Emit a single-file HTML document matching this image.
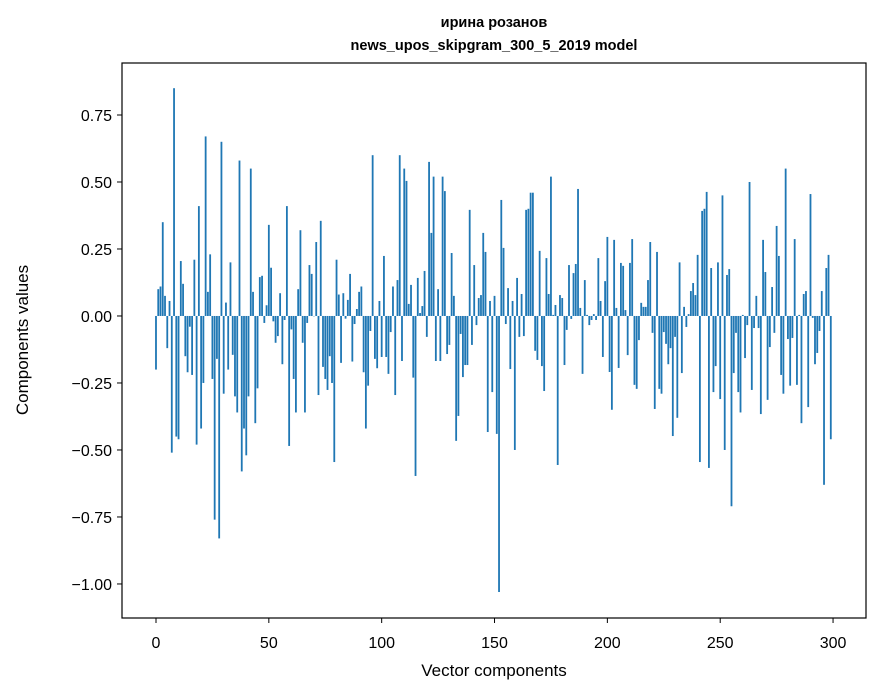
<!DOCTYPE html>
<html><head><meta charset="utf-8">
<style>
html,body{margin:0;padding:0;background:#fff;}
svg{display:block;font-family:"Liberation Sans","DejaVu Sans",sans-serif;}
</style></head>
<body>
<svg id="chart" width="880" height="696" viewBox="0 0 880 696" xmlns="http://www.w3.org/2000/svg">
<text x="494" y="27" text-anchor="middle" font-size="14.5" font-weight="bold">ирина розанов</text>
<text x="494" y="50" text-anchor="middle" font-size="14.5" font-weight="bold">news_upos_skipgram_300_5_2019 model</text>
<g id="bars"></g>
<g id="xticks"></g>
<g id="yticks"></g>
<rect x="122" y="63" width="744" height="555" fill="none" stroke="#000" stroke-width="1.2"/>
<text x="494" y="676" text-anchor="middle" font-size="17">Vector components</text>
<text transform="translate(28,340) rotate(-90)" text-anchor="middle" font-size="17">Components values</text>
</svg>
<script>
const values = [
-0.20,0.10,0.11,0.35,0.075,-0.12,0.056,-0.51,0.85,-0.45,
-0.46,0.205,0.12,-0.15,-0.21,-0.04,-0.22,0.21,-0.48,0.41,
-0.42,-0.25,0.67,0.09,0.23,-0.235,-0.76,-0.16,-0.83,0.65,
-0.29,0.05,-0.20,0.20,-0.145,-0.30,-0.36,0.58,-0.58,-0.42,
-0.52,-0.30,0.55,0.09,-0.40,-0.27,0.145,0.15,-0.026,0.04,
0.34,0.18,-0.02,-0.10,-0.075,0.085,-0.18,-0.015,0.41,-0.485,
-0.05,-0.235,-0.36,0.10,0.32,-0.10,-0.36,-0.026,0.19,0.157,
0.0,0.276,-0.295,0.355,-0.19,-0.235,-0.276,-0.15,-0.25,-0.545,
0.21,0.08,-0.175,0.085,-0.01,0.06,0.157,-0.17,-0.03,0.026,
0.09,0.11,-0.21,-0.42,-0.26,-0.056,0.60,-0.16,-0.195,0.056,
-0.153,0.224,-0.153,-0.216,-0.06,0.11,-0.295,0.134,0.60,-0.168,
0.55,0.504,0.045,0.116,-0.23,-0.597,0.142,0.011,0.037,0.168,
-0.078,0.575,0.31,0.52,-0.168,0.10,-0.168,0.52,0.466,-0.142,
-0.108,0.235,0.075,-0.466,-0.373,-0.067,-0.228,-0.183,-0.183,0.396,
-0.108,0.19,-0.034,0.067,0.078,0.31,0.239,-0.433,0.056,-0.284,
0.075,-0.44,-1.03,0.433,0.254,-0.03,0.104,-0.198,0.056,-0.5,
0.142,-0.078,0.082,-0.075,0.396,0.40,0.46,0.46,-0.13,-0.164,
0.243,-0.187,-0.28,0.216,0.082,0.52,0.004,0.041,-0.556,0.078,
0.067,-0.183,-0.052,0.19,-0.011,0.16,0.194,0.474,0.03,-0.216,
0.134,0.004,-0.034,-0.015,0.007,-0.015,0.216,0.056,-0.153,0.13,
0.295,-0.209,-0.35,0.284,0.03,-0.194,0.198,0.187,0.022,-0.146,
0.198,0.287,-0.257,-0.272,-0.09,0.049,0.034,0.034,0.134,0.276,
-0.063,-0.347,0.239,-0.272,-0.29,-0.06,-0.104,-0.18,-0.12,-0.448,
-0.078,-0.38,0.2,-0.213,0.034,-0.041,0.007,0.093,0.123,0.078,
0.228,-0.545,0.392,0.40,0.463,-0.567,0.179,-0.284,-0.187,0.2,
-0.31,0.45,-0.5,0.153,0.175,-0.71,-0.213,-0.063,-0.284,-0.36,
0.004,-0.157,-0.034,0.50,-0.276,-0.045,0.075,-0.045,-0.366,0.284,
0.164,-0.313,-0.116,0.108,-0.063,0.336,0.224,-0.22,-0.29,0.55,
-0.086,-0.26,-0.082,0.287,-0.257,0.004,-0.4,0.082,0.093,-0.34,
0.455,-0.007,-0.18,-0.138,-0.056,0.093,-0.63,0.179,0.228,-0.46
];
const xTickValues = [0,50,100,150,200,250,300];
const yTickValues = [-1.00,-0.75,-0.50,-0.25,0.00,0.25,0.50,0.75];

const NS = "http://www.w3.org/2000/svg";
const X0 = 122, X1 = 866, Y0 = 63, Y1 = 618;
const xMin = -15.06, xMax = 314.6, yMin = -1.127, yMax = 0.944;
function xScale(v){ return X0 + (v - xMin) / (xMax - xMin) * (X1 - X0); }
function yScale(v){ return Y1 - (v - yMin) / (yMax - yMin) * (Y1 - Y0); }
const bw = (xScale(1) - xScale(0)) * 0.8;

const barsG = document.getElementById('bars');
values.forEach((v, i) => {
  const r = document.createElementNS(NS, 'rect');
  const y = yScale(Math.max(v, 0)), h = Math.abs(yScale(v) - yScale(0));
  r.setAttribute('x', xScale(i) - bw / 2);
  r.setAttribute('y', y);
  r.setAttribute('width', bw);
  r.setAttribute('height', Math.max(h, 0.3));
  r.setAttribute('fill', '#1f77b4');
  
  
  barsG.appendChild(r);
});

const xg = document.getElementById('xticks');
xTickValues.forEach(t => {
  const x = xScale(t);
  const l = document.createElementNS(NS, 'line');
  l.setAttribute('x1', x); l.setAttribute('x2', x);
  l.setAttribute('y1', Y1); l.setAttribute('y2', Y1 + 5);
  l.setAttribute('stroke', '#000');
  
  
  xg.appendChild(l);
  const tx = document.createElementNS(NS, 'text');
  tx.setAttribute('x', x); tx.setAttribute('y', Y1 + 30);
  tx.setAttribute('text-anchor', 'middle');
  tx.setAttribute('font-size', '16');
  tx.textContent = String(t);
  
  
  xg.appendChild(tx);
});

const yg = document.getElementById('yticks');
yTickValues.forEach(t => {
  const y = yScale(t);
  const l = document.createElementNS(NS, 'line');
  l.setAttribute('x1', X0 - 5); l.setAttribute('x2', X0);
  l.setAttribute('y1', y); l.setAttribute('y2', y);
  l.setAttribute('stroke', '#000');
  
  
  yg.appendChild(l);
  const tx = document.createElementNS(NS, 'text');
  tx.setAttribute('x', X0 - 10); tx.setAttribute('y', y + 6);
  tx.setAttribute('text-anchor', 'end');
  tx.setAttribute('font-size', '16');
  tx.textContent = (t < 0 ? '\u2212' : '') + Math.abs(t).toFixed(2);
  
  
  yg.appendChild(tx);
});
</script>
</body></html>
